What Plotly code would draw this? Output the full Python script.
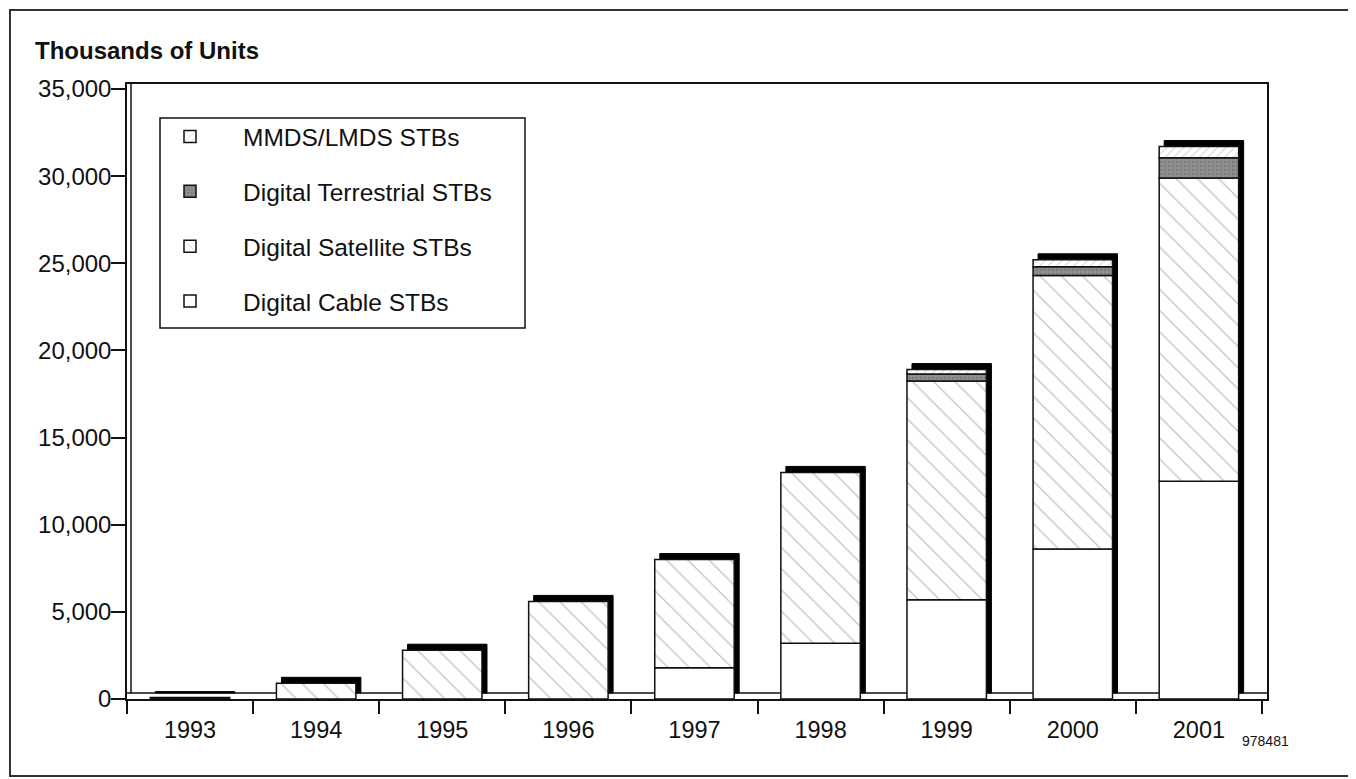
import plotly.graph_objects as go

# ---------------- data (thousands of units) ----------------
years = ["1993", "1994", "1995", "1996", "1997", "1998", "1999", "2000", "2001"]
cable = [0, 0, 0, 0, 1800, 3200, 5700, 8600, 12500]
satellite = [80, 900, 2800, 5600, 6200, 9800, 12550, 15700, 17400]
terrestrial = [0, 0, 0, 0, 0, 0, 400, 500, 1150]
mmds = [0, 0, 0, 0, 0, 0, 250, 400, 650]

y_ticks = [0, 5000, 10000, 15000, 20000, 25000, 30000, 35000]

# ---------------- layout constants ----------------
OFF = 8                       # page body margin
W, H = 1356 - OFF, 779 - OFF
L, R, T, B = 127 - OFF, 1356 - 1267, 84 - OFF, 779 - 699
PW, PH = W - L - R, H - T - B
YMAX = 35287
XR = [-0.5, 8.54]
BAR_W = 0.63
SH_DX = 5 * (XR[1] - XR[0]) / PW      # shadow shift right (5 px)
SH_DY = 6 * YMAX / PH                 # shadow shift up (6 px)

FONT = "Liberation Sans, Arial, sans-serif"


def px_x(p):
    """reference-screen x pixel -> paper coordinate"""
    return (p - OFF - L) / PW


def px_y(p):
    """reference-screen y pixel -> paper coordinate"""
    return 1 - (p - OFF - T) / PH


def nz(vals):
    return [v if v else None for v in vals]


totals = [c + s + t + m for c, s, t, m in zip(cable, satellite, terrestrial, mmds)]
base_sat = cable
base_ter = [c + s for c, s in zip(cable, satellite)]
base_mm = [b + t for b, t in zip(base_ter, terrestrial)]

fig = go.Figure()

# shadow (3D extrusion)
fig.add_trace(go.Bar(
    x=years, y=totals, base=[SH_DY] * len(years),
    width=BAR_W, offset=-BAR_W / 2 + SH_DX,
    marker=dict(color="#000000", line=dict(color="#000000", width=1)),
    showlegend=False, hoverinfo="skip",
))

common_line = dict(color="#111111", width=1.5)

fig.add_trace(go.Bar(
    x=years, y=nz(cable), base=[0] * len(years), name="Digital Cable STBs",
    width=BAR_W, offset=-BAR_W / 2, legendgroup="c", legendrank=4,
    marker=dict(color="#ffffff", line=common_line),
))
fig.add_trace(go.Bar(
    x=years, y=nz(satellite), base=base_sat, name="Digital Satellite STBs",
    width=BAR_W, offset=-BAR_W / 2, legendgroup="s", legendrank=3,
    marker=dict(color="#ffffff", line=common_line,
                pattern=dict(shape="\\", size=15, solidity=0.09,
                             fgcolor="#8a8a8a", bgcolor="#ffffff")),
))
fig.add_trace(go.Bar(
    x=years, y=nz(terrestrial), base=base_ter, name="Digital Terrestrial STBs",
    width=BAR_W, offset=-BAR_W / 2, legendgroup="t", legendrank=2,
    marker=dict(color="#8e8e8e", line=common_line,
                pattern=dict(shape=".", size=4, solidity=0.3,
                             fgcolor="#6a6a6a", bgcolor="#8e8e8e")),
))
fig.add_trace(go.Bar(
    x=years, y=nz(mmds), base=base_mm, name="MMDS/LMDS STBs",
    width=BAR_W, offset=-BAR_W / 2, legendgroup="m", legendrank=1,
    marker=dict(color="#ffffff", line=common_line,
                pattern=dict(shape="/", size=6, solidity=0.18,
                             fgcolor="#a8a8a8", bgcolor="#ffffff")),
))

shapes = [
    # outer frame
    dict(type="rect", xref="paper", yref="paper",
         x0=px_x(10), x1=px_x(1349), y0=px_y(776), y1=px_y(10),
         line=dict(color="#333333", width=2), layer="below"),
    # floor back line
    dict(type="line", xref="x", yref="y", x0=XR[0], x1=XR[1], y0=SH_DY, y1=SH_DY,
         line=dict(color="#111111", width=1.5), layer="below"),
    # back wall line
    dict(type="line", xref="paper", yref="y", x0=px_x(131), x1=px_x(131),
         y0=SH_DY, y1=YMAX, line=dict(color="#111111", width=1.5), layer="below"),
    # legend box
    dict(type="rect", xref="paper", yref="paper",
         x0=px_x(160), x1=px_x(525), y0=px_y(328), y1=px_y(118),
         line=dict(color="#111111", width=1.5), fillcolor="#ffffff", layer="below"),
]

annotations = [
    dict(text="<b>Thousands of Units</b>", xref="paper", yref="paper",
         x=px_x(33), y=px_y(50), xanchor="left", yanchor="middle",
         showarrow=False, font=dict(family=FONT, size=24, color="#111111")),
    dict(text="978481", xref="paper", yref="paper",
         x=px_x(1240), y=px_y(741), xanchor="left", yanchor="middle",
         showarrow=False, font=dict(family=FONT, size=14, color="#111111")),
]

fig.update_layout(
    width=W, height=H,
    margin=dict(l=L, r=R, t=T, b=B, pad=0),
    paper_bgcolor="#ffffff", plot_bgcolor="#ffffff",
    barmode="overlay",
    font=dict(family=FONT, size=24, color="#111111"),
    shapes=shapes,
    annotations=annotations,
    legend=dict(
        x=px_x(137), y=px_y(114), xanchor="left", yanchor="top",
        bgcolor="rgba(0,0,0,0)", borderwidth=0,
        traceorder="grouped", tracegroupgap=20,
        itemwidth=96,
        font=dict(family=FONT, size=24.5, color="#111111"),
    ),
    xaxis=dict(
        type="category", range=XR, tickson="boundaries",
        ticks="outside", ticklen=13, tickwidth=1.5, tickcolor="#111111",
        showline=True, linecolor="#111111", linewidth=1.5, mirror=True,
        showgrid=False, zeroline=False, ticklabelstandoff=9,
        tickfont=dict(family=FONT, size=23.5, color="#111111"),
    ),
    yaxis=dict(
        range=[0, YMAX], tickvals=y_ticks, tickformat=",d",
        ticks="outside", ticklen=14, tickwidth=1.5, tickcolor="#111111",
        showline=True, linecolor="#111111", linewidth=1.5, mirror=True,
        showgrid=False, zeroline=False, ticklabelstandoff=-5,
        tickfont=dict(family=FONT, size=24, color="#111111"),
    ),
)

fig.write_html("out.html")
